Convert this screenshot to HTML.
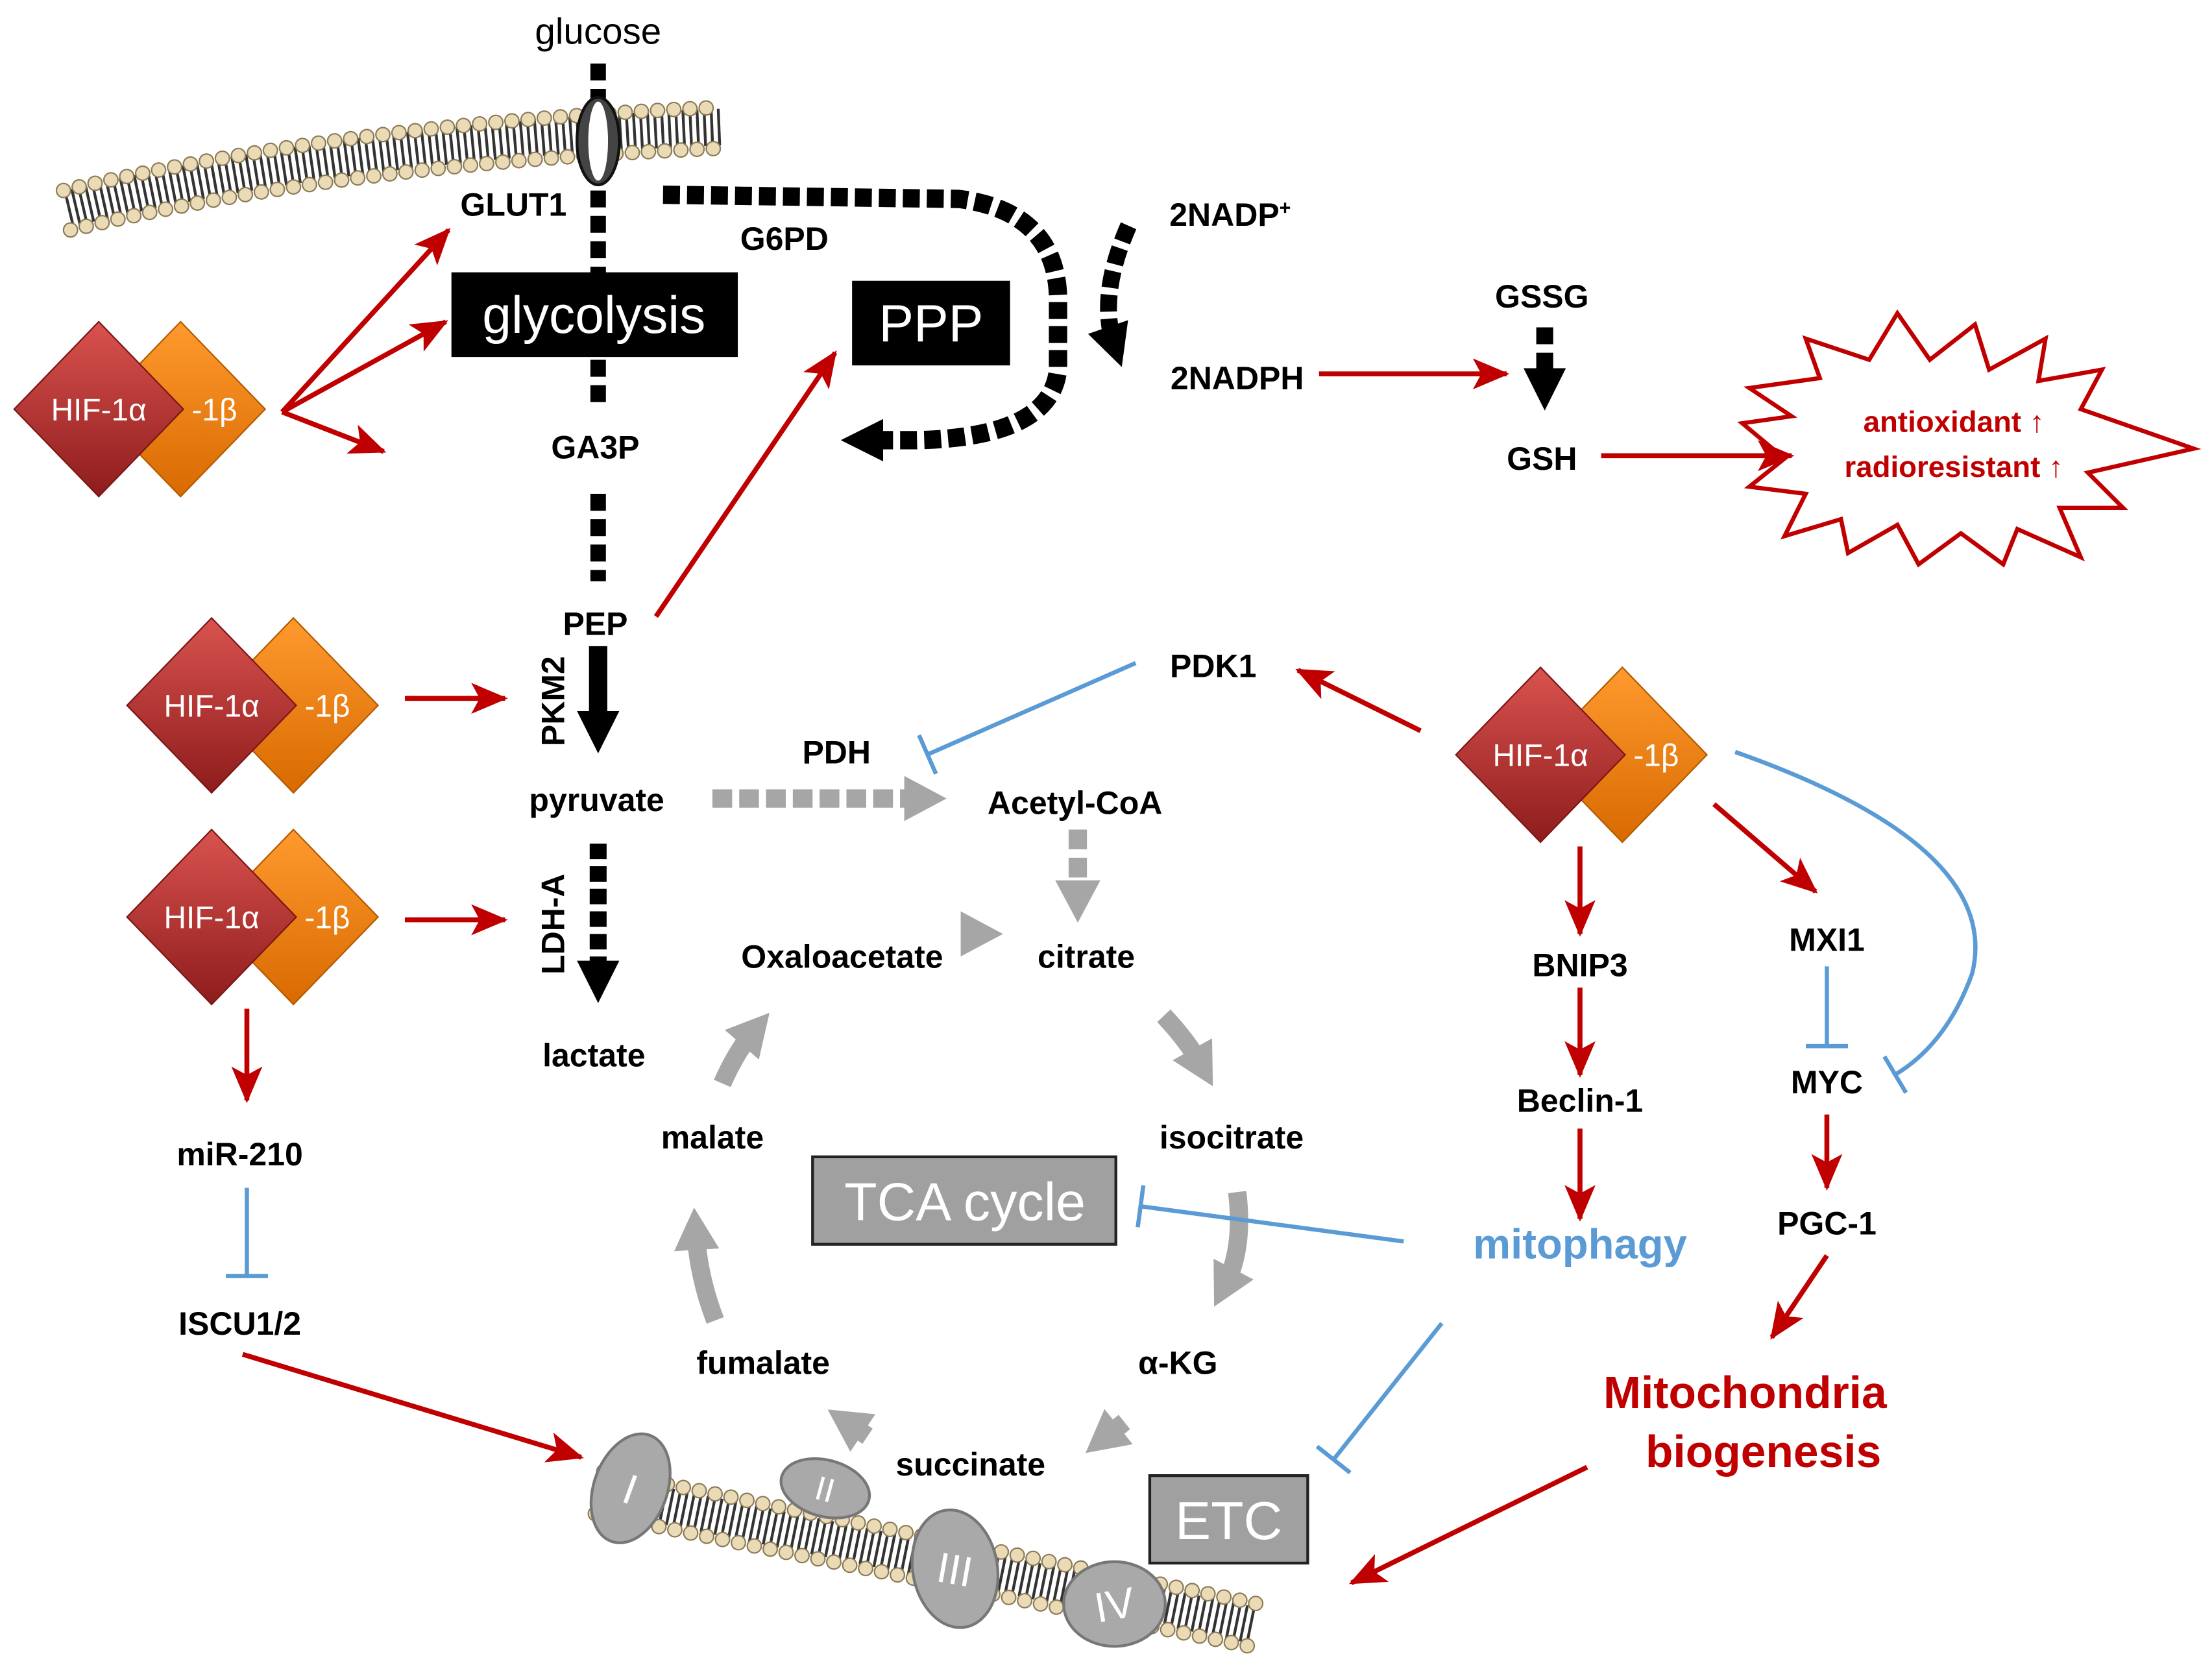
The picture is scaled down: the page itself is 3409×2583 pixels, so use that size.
<!DOCTYPE html>
<html><head><meta charset="utf-8"><style>html,body{margin:0;padding:0;background:#fff}svg{display:block}text{font-family:"Liberation Sans",Arial,sans-serif}</style></head>
<body>
<svg width="3409" height="2583" viewBox="0 0 1568 1188" xmlns="http://www.w3.org/2000/svg">
<defs>
<marker id="r" markerUnits="userSpaceOnUse" markerWidth="26" markerHeight="22" refX="24" refY="11" orient="auto"><path d="M0,0 L26,11 L0,22 L6,11 Z" fill="#c00000"/></marker>
<marker id="tb" markerUnits="userSpaceOnUse" markerWidth="6" markerHeight="30" refX="3" refY="15" orient="auto"><rect x="1" y="0" width="3" height="30" fill="#5b9bd5"/></marker>
<marker id="bk" markerUnits="userSpaceOnUse" markerWidth="30" markerHeight="30" refX="14" refY="15" orient="auto"><path d="M0,0 L30,15 L0,30 Z" fill="#000"/></marker>
<marker id="gy" markerUnits="userSpaceOnUse" markerWidth="30" markerHeight="32" refX="14" refY="16" orient="auto"><path d="M0,0 L30,16 L0,32 Z" fill="#a6a6a6"/></marker>
<linearGradient id="rd" x1="0" y1="0" x2="0" y2="1"><stop offset="0" stop-color="#d9534f"/><stop offset="1" stop-color="#8e1c1c"/></linearGradient>
<linearGradient id="or" x1="0" y1="0" x2="0" y2="1"><stop offset="0" stop-color="#ff9a2e"/><stop offset="1" stop-color="#d86a00"/></linearGradient>
<g id="hif">
<path d="M58,-62 L118,0 L58,62 L-2,0 Z" fill="url(#or)" stroke="#b35a00" stroke-width="1"/>
<path d="M0,-62 L60,0 L0,62 L-60,0 Z" fill="url(#rd)" stroke="#7a1515" stroke-width="1"/>
<text x="0" y="8" font-size="22" fill="#fff" text-anchor="middle">HIF-1α</text>
<text x="82" y="8" font-size="22" fill="#fff" text-anchor="middle">-1β</text>
</g>
</defs>

<path d="M48,148 Q250,100 512,90" fill="none" stroke="#333" stroke-width="26" stroke-dasharray="2 3"/>
<path d="M45,135 Q250,87 512,76" fill="none" stroke="#8a7a55" stroke-width="11" stroke-linecap="round" stroke-dasharray="0 11.5"/>
<path d="M45,135 Q250,87 512,76" fill="none" stroke="#eadbb6" stroke-width="9" stroke-linecap="round" stroke-dasharray="0 11.5"/>
<path d="M50,163 Q250,115 514,105" fill="none" stroke="#8a7a55" stroke-width="11" stroke-linecap="round" stroke-dasharray="0 11.5"/>
<path d="M50,163 Q250,115 514,105" fill="none" stroke="#eadbb6" stroke-width="9" stroke-linecap="round" stroke-dasharray="0 11.5"/>

<path d="M425,1058 L888,1152" fill="none" stroke="#333" stroke-width="26" stroke-dasharray="2 3"/>
<path d="M428,1043 L892,1137" fill="none" stroke="#8a7a55" stroke-width="11" stroke-linecap="round" stroke-dasharray="0 11.5"/>
<path d="M428,1043 L892,1137" fill="none" stroke="#eadbb6" stroke-width="9" stroke-linecap="round" stroke-dasharray="0 11.5"/>
<path d="M422,1073 L886,1167" fill="none" stroke="#8a7a55" stroke-width="11" stroke-linecap="round" stroke-dasharray="0 11.5"/>
<path d="M422,1073 L886,1167" fill="none" stroke="#eadbb6" stroke-width="9" stroke-linecap="round" stroke-dasharray="0 11.5"/>
<g fill="#a9a9a9" stroke="#777" stroke-width="2">
<ellipse cx="447" cy="1055" rx="26" ry="40" transform="rotate(20 447 1055)"/>
<ellipse cx="585" cy="1055" rx="32" ry="20" transform="rotate(15 585 1055)"/>
<ellipse cx="677" cy="1112" rx="30" ry="42" transform="rotate(-10 677 1112)"/>
<ellipse cx="790" cy="1137" rx="36" ry="30"/>
</g>
<g fill="#fff" font-family="Liberation Serif" text-anchor="middle">
<text x="447" y="1066" font-size="30" transform="rotate(20 447 1055)">I</text>
<text x="585" y="1064" font-size="24" transform="rotate(15 585 1055)">II</text>
<text x="677" y="1123" font-size="30" transform="rotate(10 677 1112)">III</text>
<text x="790" y="1148" font-size="30" transform="rotate(-10 790 1137)">IV</text>
</g>

<path d="M424,45 L424,196" stroke="#000" stroke-width="11" stroke-dasharray="12 6"/>
<path d="M424,255 L424,290" stroke="#000" stroke-width="11" stroke-dasharray="12 6"/>
<path d="M424,350 L424,412" stroke="#000" stroke-width="11" stroke-dasharray="12 6"/>
<ellipse cx="424" cy="100" rx="15" ry="31" fill="#444" stroke="#111" stroke-width="2"/>
<ellipse cx="424" cy="100" rx="7" ry="28" fill="#fff"/>
<text x="424" y="31" font-size="26" text-anchor="middle">glucose</text>

<rect x="320" y="193" width="203" height="60" fill="#000"/>
<text x="421" y="236" font-size="37" fill="#fff" text-anchor="middle">glycolysis</text>
<rect x="604" y="199" width="112" height="60" fill="#000"/>
<text x="660" y="242" font-size="37" fill="#fff" text-anchor="middle">PPP</text>

<path d="M470,138 L680,141 Q748,150 750,210 L750,262 Q745,310 650,312 L612,312" fill="none" stroke="#000" stroke-width="13" stroke-dasharray="12 5" marker-end="url(#bk)"/>
<path d="M800,160 Q778,210 790,245" fill="none" stroke="#000" stroke-width="12" stroke-dasharray="12 5" marker-end="url(#bk)"/>

<path d="M424,458 L424,518" stroke="#000" stroke-width="13" marker-end="url(#bk)"/>
<path d="M424,598 L424,695" stroke="#000" stroke-width="12" stroke-dasharray="11 5" marker-end="url(#bk)"/>

<g font-size="23" font-weight="bold" text-anchor="middle">
<text x="364" y="153">GLUT1</text>
<text x="556" y="177">G6PD</text>
<text x="872" y="160">2NADP<tspan font-size="14" dy="-8">+</tspan></text>
<text x="877" y="276">2NADPH</text>
<text x="1093" y="218">GSSG</text>
<text x="1093" y="333">GSH</text>
<text x="422" y="325">GA3P</text>
<text x="422" y="450">PEP</text>
<text x="423" y="575">pyruvate</text>
<text x="593" y="541">PDH</text>
<text x="762" y="577">Acetyl-CoA</text>
<text x="860" y="480">PDK1</text>
<text x="770" y="686">citrate</text>
<text x="597" y="686">Oxaloacetate</text>
<text x="421" y="756">lactate</text>
<text x="170" y="826">miR-210</text>
<text x="170" y="946">ISCU1/2</text>
<text x="505" y="814">malate</text>
<text x="873" y="814">isocitrate</text>
<text x="541" y="974">fumalate</text>
<text x="835" y="974">α-KG</text>
<text x="688" y="1046">succinate</text>
<text x="1120" y="692">BNIP3</text>
<text x="1120" y="788">Beclin-1</text>
<text x="1295" y="674">MXI1</text>
<text x="1295" y="775">MYC</text>
<text x="1295" y="875">PGC-1</text>
<text transform="translate(400,497) rotate(-90)">PKM2</text>
<text transform="translate(400,655) rotate(-90)">LDH-A</text>
</g>

<path d="M1095,232 L1095,275" stroke="#000" stroke-width="12" stroke-dasharray="12 6" marker-end="url(#bk)"/>

<polygon points="1240,275 1290,268 1280,240 1325,255 1345,222 1368,255 1400,230 1410,262 1450,240 1445,270 1490,262 1475,290 1555,318 1480,335 1505,360 1460,360 1475,395 1430,375 1420,400 1390,378 1360,400 1345,372 1310,392 1305,368 1265,380 1280,350 1240,345 1265,325 1235,300 1270,295"
 fill="#fff" stroke="#c00000" stroke-width="3"/>
<text x="1385" y="306" font-size="21" font-weight="bold" fill="#c00000" text-anchor="middle">antioxidant ↑</text>
<text x="1385" y="338" font-size="21" font-weight="bold" fill="#c00000" text-anchor="middle">radioresistant ↑</text>

<path d="M505,566 L655,566" stroke="#a6a6a6" stroke-width="13" stroke-dasharray="14 5" marker-end="url(#gy)"/>
<path d="M764,588 L764,638" stroke="#a6a6a6" stroke-width="13" stroke-dasharray="14 6" marker-end="url(#gy)"/>
<g fill="none" stroke="#a6a6a6" stroke-width="13">
<path d="M683,662 L695,662" marker-end="url(#gy)"/>
<path d="M825,720 Q842,738 852,756" marker-end="url(#gy)"/>
<path d="M877,845 Q882,885 868,912" marker-end="url(#gy)"/>
<path d="M797,1008 L782,1020" marker-end="url(#gy)"/>
<path d="M615,1018 L600,1008" marker-end="url(#gy)"/>
<path d="M507,936 Q495,905 493,872" marker-end="url(#gy)"/>
<path d="M512,768 Q522,745 535,730" marker-end="url(#gy)"/>
</g>
<rect x="576" y="820" width="215" height="62" fill="#a0a0a0" stroke="#222" stroke-width="2"/>
<text x="684" y="865" font-size="38" fill="#fff" text-anchor="middle">TCA cycle</text>
<rect x="815" y="1046" width="112" height="62" fill="#a0a0a0" stroke="#222" stroke-width="2"/>
<text x="871" y="1091" font-size="38" fill="#fff" text-anchor="middle">ETC</text>

<g stroke="#c00000" stroke-width="3.5" fill="none" marker-end="url(#r)">
<path d="M200,292 L318,163"/>
<path d="M200,292 L316,228"/>
<path d="M200,292 L272,320"/>
<path d="M465,437 L592,250"/>
<path d="M935,265 L1068,265"/>
<path d="M1135,323 L1270,323"/>
<path d="M287,495 L358,495"/>
<path d="M287,652 L358,652"/>
<path d="M175,715 L175,780"/>
<path d="M172,960 L412,1033"/>
<path d="M1007,518 L920,475"/>
<path d="M1120,600 L1120,662"/>
<path d="M1120,700 L1120,762"/>
<path d="M1120,800 L1120,864"/>
<path d="M1215,570 L1287,632"/>
<path d="M1295,790 L1295,842"/>
<path d="M1295,890 L1256,948"/>
<path d="M1125,1040 L958,1122"/>
</g>

<g stroke="#5b9bd5" stroke-width="3" fill="none" marker-end="url(#tb)">
<path d="M805,470 L657,535"/>
<path d="M175,842 L175,905"/>
<path d="M995,880 L808,855"/>
<path d="M1022,938 L945,1035"/>
<path d="M1295,685 L1295,742"/>
<path d="M1230,533 Q1420,600 1398,690 Q1380,740 1343,762"/>
</g>

<text x="1120" y="892" font-size="30" font-weight="bold" fill="#5b9bd5" text-anchor="middle">mitophagy</text>
<text x="1237" y="998" font-size="32" font-weight="bold" fill="#c00000" text-anchor="middle">Mitochondria</text>
<text x="1250" y="1040" font-size="32" font-weight="bold" fill="#c00000" text-anchor="middle">biogenesis</text>

<use href="#hif" x="70" y="290"/>
<use href="#hif" x="150" y="500"/>
<use href="#hif" x="150" y="650"/>
<use href="#hif" x="1092" y="535"/>
</svg>
</body></html>
